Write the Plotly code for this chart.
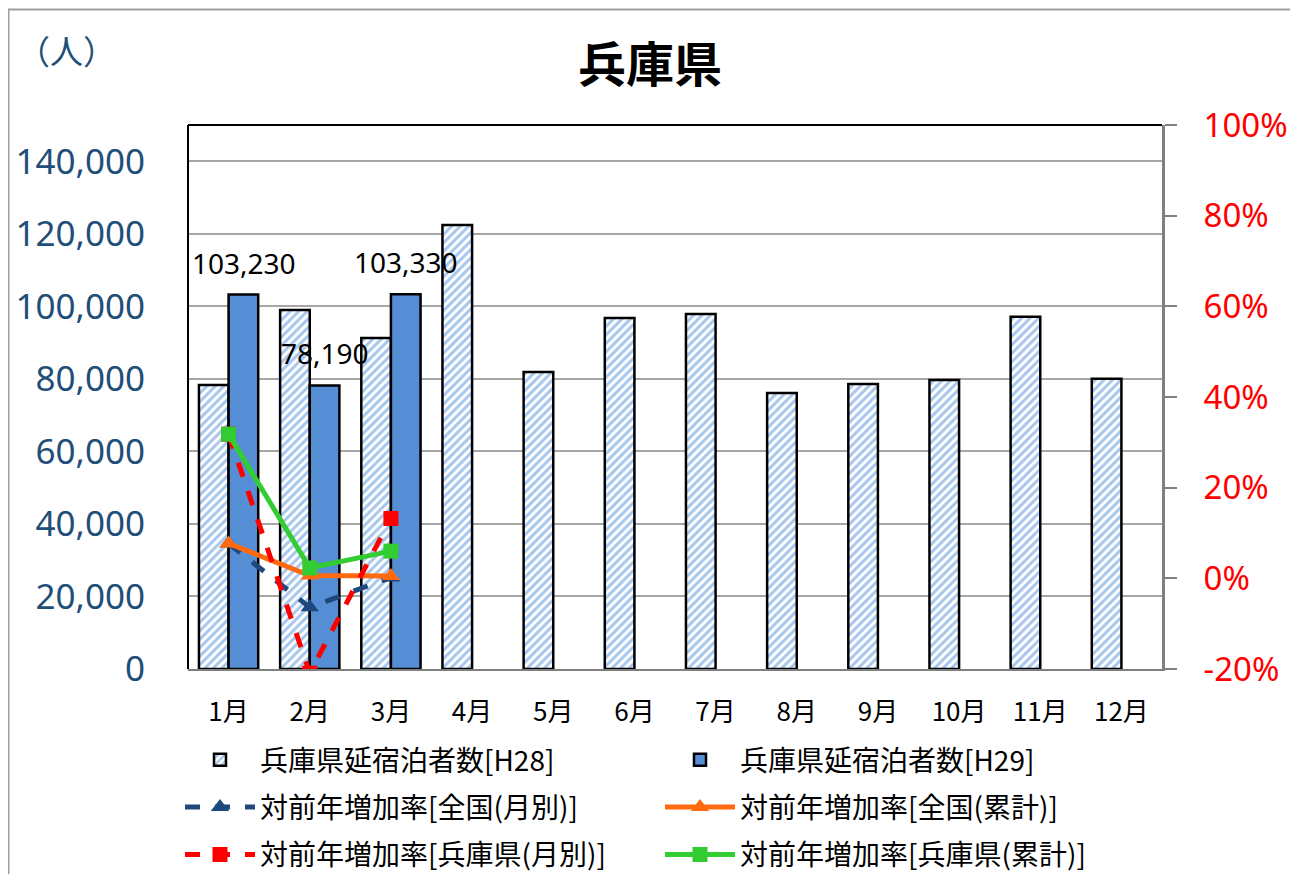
import plotly.graph_objects as go

months = ["1月", "2月", "3月", "4月", "5月", "6月", "7月", "8月", "9月", "10月", "11月", "12月"]
h28 = [78300, 99000, 91300, 122400, 81900, 96800, 97900, 76100, 78600, 79700, 97100, 80000]
h29 = [103230, 78190, 103330]
rate_nat_month = [7.7, -6.4, 0.2]
rate_nat_cum = [7.7, 0.6, 0.5]
rate_hyo_month = [31.8, -20.9, 13.2]
rate_hyo_cum = [31.8, 2.3, 6.0]
left_ticks = [0, 20000, 40000, 60000, 80000, 100000, 120000, 140000]
right_ticks = [-20, 0, 20, 40, 60, 80, 100]

# page is offset by the default 8px body margin
OFF = 8
W, H = 1298 - OFF, 874 - OFF
# plot area in page pixels: x 188..1162, y 125..669
L, R, T, B = 188 - OFF, W - (1162 - OFF), 125 - OFF, H - (669 - OFF)
PW, PH = W - L - R, H - T - B

def px(xpage):
    return (xpage - OFF - L) / PW

def py(ypage):
    return (H - B - (ypage - OFF)) / PH

FONT = "Noto Sans, Noto Sans CJK JP, sans-serif"
CJK = "Noto Sans CJK JP, Noto Sans, sans-serif"

fig = go.Figure()

fig.add_trace(go.Bar(
    x=months, y=h28, name="兵庫県延宿泊者数[H28]",
    marker=dict(color="white", line=dict(color="black", width=2.5),
                pattern=dict(shape="/", fgcolor="#4F8DDB", bgcolor="white", size=6, solidity=0.5)),
    legend="legend", legendgroup="a",
))
fig.add_trace(go.Bar(
    x=months[:len(h29)], y=h29, name="兵庫県延宿泊者数[H29]",
    marker=dict(color="#558ED5", line=dict(color="black", width=2.5)),
    legend="legend2", legendgroup="b",
))
fig.add_trace(go.Scatter(
    x=months[:3], y=rate_nat_month, yaxis="y2", name="対前年増加率[全国(月別)]",
    mode="lines+markers", line=dict(color="#1F497D", width=5, dash="dash"),
    marker=dict(symbol="triangle-up", size=16, color="#1F497D"),
    legend="legend", legendgroup="c",
))
fig.add_trace(go.Scatter(
    x=months[:3], y=rate_nat_cum, yaxis="y2", name="対前年増加率[全国(累計)]",
    mode="lines+markers", line=dict(color="#FF6A10", width=5),
    marker=dict(symbol="triangle-up", size=16, color="#FF6A10"),
    legend="legend2", legendgroup="d",
))
fig.add_trace(go.Scatter(
    x=months[:3], y=rate_hyo_month, yaxis="y2", name="対前年増加率[兵庫県(月別)]",
    mode="lines+markers", line=dict(color="#FF0000", width=5, dash="dash"),
    marker=dict(symbol="square", size=15, color="#FF0000"),
    legend="legend", legendgroup="e",
))
fig.add_trace(go.Scatter(
    x=months[:3], y=rate_hyo_cum, yaxis="y2", name="対前年増加率[兵庫県(累計)]",
    mode="lines+markers", line=dict(color="#33CC33", width=5),
    marker=dict(symbol="square", size=15, color="#33CC33"),
    legend="legend2", legendgroup="f",
))

annotations = []
for i, v in enumerate(h29):
    annotations.append(dict(
        x=months[i], y=v, xref="x", yref="y", text=f"{v:,}", showarrow=False,
        xshift=15, yshift=32, font=dict(family=FONT, size=28, color="black"),
    ))
imin = rate_hyo_month.index(min(rate_hyo_month))
annotations.append(dict(
    x=months[imin], y=rate_hyo_month[imin], xref="x", yref="y2",
    text=f"{rate_hyo_month[imin]:.1f}%", showarrow=False, yshift=-12,
    font=dict(family=FONT, size=25, color="#FF0000"),
))
annotations.append(dict(
    x=px(66), y=py(50), xref="paper", yref="paper", text="（人）", showarrow=False,
    xanchor="center", yanchor="middle",
    font=dict(family=CJK, size=33, color="#1F4E79"),
))

shapes = [
    dict(type="rect", xref="paper", yref="paper", x0=px(8.5), x1=px(1293), y0=py(900), y1=py(9.5),
         line=dict(color="#A0A0A0", width=2), layer="below"),
    dict(type="line", xref="paper", yref="paper", x0=0, x1=0, y0=0, y1=1,
         line=dict(color="black", width=2), layer="above"),
    dict(type="line", xref="paper", yref="paper", x0=0, x1=1, y0=1, y1=1,
         line=dict(color="black", width=2), layer="above"),
]

legend_common = dict(
    orientation="v", yanchor="top", xanchor="left",
    font=dict(family=CJK, size=28, color="black"),
    bgcolor="rgba(0,0,0,0)", itemwidth=70, tracegroupgap=8,
    traceorder="grouped",
)

fig.update_layout(
    width=W, height=H,
    margin=dict(l=L, r=R, t=T, b=B, autoexpand=False),
    paper_bgcolor="white", plot_bgcolor="white",
    font=dict(family=FONT, color="black"),
    title=dict(text="<b>兵庫県</b>", x=(650 - OFF) / W, xref="container", xanchor="center",
               y=1 - (65 - OFF) / H, yref="container", yanchor="middle",
               font=dict(family=CJK, size=48, color="black")),
    barmode="group", bargap=0.27, bargroupgap=0,
    showlegend=True,
    legend=dict(x=px(180), y=py(735), **legend_common),
    legend2=dict(x=px(660), y=py(735), **legend_common),
    xaxis=dict(
        type="category", categoryorder="array", categoryarray=months,
        range=[-0.5, len(months) - 0.5],
        showline=True, linecolor="#7F7F7F", linewidth=2, ticks="",
        tickfont=dict(family=CJK, size=26, color="black"),
        ticklabelstandoff=19, showgrid=False,
    ),
    yaxis=dict(
        range=[0, 150000], tickvals=left_ticks, ticktext=[f"{v:,}" for v in left_ticks],
        showgrid=True, gridcolor="#A6A6A6", gridwidth=1.5,
        showline=False, ticks="", zeroline=False,
        tickfont=dict(family=FONT, size=35, color="#1F4E79"),
        ticklabelstandoff=42,
    ),
    yaxis2=dict(
        range=[-20, 100], tickvals=right_ticks, ticktext=[f"{v}%" for v in right_ticks],
        overlaying="y", side="right",
        showgrid=False, zeroline=False,
        showline=True, linecolor="#808080", linewidth=3,
        ticks="outside", ticklen=12, tickwidth=2, tickcolor="#808080",
        tickfont=dict(family=FONT, size=33, color="#FF0000"),
        ticklabelstandoff=20,
    ),
    annotations=annotations,
    shapes=shapes,
)

fig.write_html("out.html")
